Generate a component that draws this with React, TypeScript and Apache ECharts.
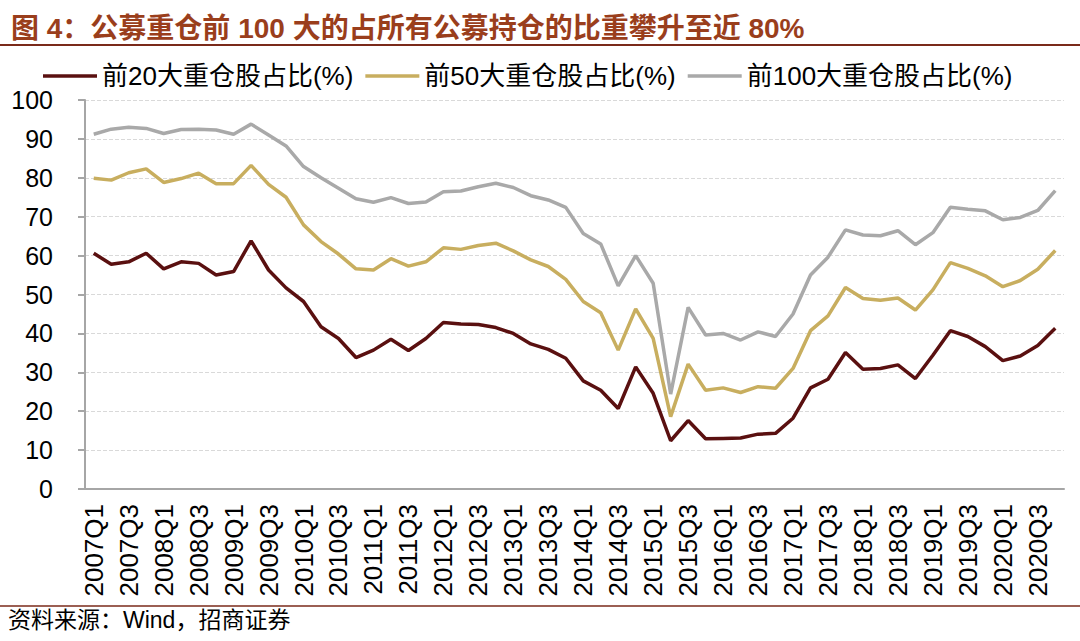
import React, { useEffect, useRef } from "react";
import * as echarts from "echarts";

const YEARS = ["2007", "2008", "2009", "2010", "2011", "2012", "2013", "2014", "2015", "2016", "2017", "2018", "2019", "2020"];
const QUARTERS = ["Q1", "Q2", "Q3", "Q4"];
const categories: string[] = [];
YEARS.forEach((y) => QUARTERS.forEach((q) => categories.push(y + q)));

const top20 = [
  60.6, 57.8, 58.4, 60.6, 56.6, 58.4, 58.0, 55.0, 55.9, 63.8, 56.3, 51.7, 48.2, 41.7,
  38.7, 33.8, 35.7, 38.5, 35.6, 38.7, 42.8, 42.4, 42.3, 41.5, 40.0, 37.3, 35.9, 33.6,
  27.8, 25.4, 20.7, 31.4, 24.6, 12.4, 17.6, 12.9, 13.0, 13.1, 14.1, 14.3, 18.2, 26.0,
  28.2, 35.1, 30.8, 31.0, 31.9, 28.4, 34.4, 40.7, 39.2, 36.6, 33.0, 34.2, 36.9, 41.3,
];
const top50 = [
  79.9, 79.4, 81.3, 82.3, 78.8, 79.8, 81.2, 78.5, 78.5, 83.2, 78.3, 75.0, 67.9, 63.6,
  60.4, 56.6, 56.3, 59.2, 57.3, 58.4, 62.0, 61.6, 62.6, 63.2, 61.2, 58.9, 57.2, 53.9,
  48.2, 45.3, 35.7, 46.3, 38.7, 18.6, 32.1, 25.4, 26.0, 24.8, 26.3, 25.9, 31.0, 40.7,
  44.5, 51.8, 49.0, 48.5, 49.1, 46.0, 51.2, 58.2, 56.7, 54.8, 52.0, 53.6, 56.5, 61.3,
];
const top100 = [
  91.2, 92.5, 93.0, 92.7, 91.4, 92.4, 92.5, 92.3, 91.2, 93.8, 91.0, 88.2, 82.9, 80.0,
  77.3, 74.6, 73.7, 74.9, 73.4, 73.8, 76.4, 76.6, 77.7, 78.6, 77.5, 75.4, 74.3, 72.4,
  65.7, 63.0, 52.2, 60.0, 52.9, 24.4, 46.7, 39.6, 40.0, 38.3, 40.4, 39.2, 45.0, 55.0,
  59.6, 66.6, 65.3, 65.1, 66.4, 62.8, 65.9, 72.4, 71.9, 71.5, 69.2, 69.8, 71.6, 76.7,
];

const SERIES_NAMES = ["前20大重仓股占比(%)", "前50大重仓股占比(%)", "前100大重仓股占比(%)"];
const COLORS = ["#5A1010", "#C8AE5F", "#A9A9A9"];
const TITLE = "图 4：公募重仓前 100 大的占所有公募持仓的比重攀升至近 80%";
const SOURCE = "资料来源：Wind，招商证券";

const FONT = "'Liberation Sans', Arial, 'Noto Sans CJK SC', sans-serif";

export default function App() {
  const ref = useRef<HTMLDivElement>(null);
  useEffect(() => {
    if (!ref.current) return;
    const chart = echarts.init(ref.current, null, { renderer: "svg" });
    const datasets = [top20, top50, top100];
    chart.setOption({
      animation: false,
      backgroundColor: "#ffffff",
      title: {
        text: TITLE,
        left: 6,
        top: 9,
        textStyle: { fontSize: 28, fontWeight: "bold", color: "#9A3E1C", fontFamily: FONT },
      },
      legend: {
        left: 38,
        top: 58,
        icon: "rect",
        itemWidth: 54,
        itemHeight: 3.5,
        itemGap: 12,
        textStyle: { fontSize: 26, color: "#000", fontFamily: FONT, padding: [0, 0, 0, 0] },
        data: SERIES_NAMES,
      },
      grid: { left: 85, right: 16, top: 100, bottom: 152, containLabel: false },
      xAxis: {
        type: "category",
        data: categories,
        boundaryGap: true,
        axisLine: { lineStyle: { color: "#A6A6A6", width: 2 } },
        axisTick: { interval: 1, length: 7, lineStyle: { color: "#A6A6A6", width: 2 } },
        axisLabel: { interval: 1, rotate: 90, fontSize: 26, color: "#000", margin: 15, fontFamily: FONT },
      },
      yAxis: {
        type: "value",
        min: 0,
        max: 100,
        interval: 10,
        axisLine: { show: true, lineStyle: { color: "#A6A6A6", width: 2 } },
        axisTick: { show: true, length: 7, lineStyle: { color: "#A6A6A6", width: 2 } },
        axisLabel: { fontSize: 25, color: "#000", margin: 32, fontFamily: FONT },
        splitLine: { lineStyle: { color: "#D9D9D9", type: "dashed", width: 1 } },
      },
      series: SERIES_NAMES.map((name, i) => ({
        name,
        type: "line",
        data: datasets[i],
        symbol: "none",
        lineStyle: { color: COLORS[i], width: 3.5 },
        itemStyle: { color: COLORS[i] },
        z: 10 - i,
      })),
      graphic: [
        { type: "line", shape: { x1: 0, y1: 45, x2: 1080, y2: 45 }, style: { stroke: "#7A2A1A", lineWidth: 2 } },
        { type: "line", shape: { x1: 0, y1: 606, x2: 1080, y2: 606 }, style: { stroke: "#7A2A1A", lineWidth: 1.5 } },
        {
          type: "text",
          left: 8,
          top: 608,
          style: { text: SOURCE, fontSize: 23, fill: "#000", fontFamily: FONT },
        },
      ],
    });
    return () => chart.dispose();
  }, []);
  return (
    <div
      ref={ref}
      style={{ position: "fixed", left: 0, top: 0, width: 1080, height: 641, background: "#fff" }}
    />
  );
}
